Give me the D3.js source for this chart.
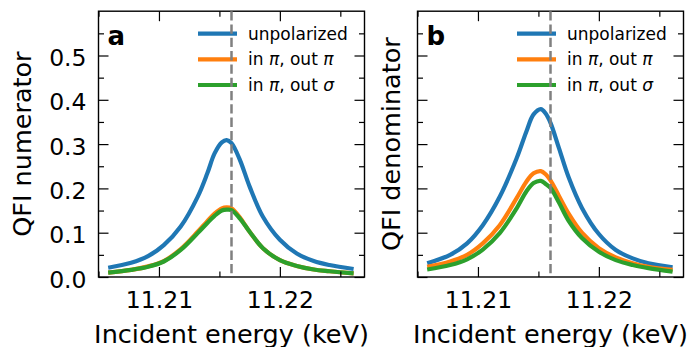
<!DOCTYPE html>
<html><head><meta charset="utf-8">
<script src="https://cdn.jsdelivr.net/npm/d3@7"></script>
<style>
body{margin:0;background:#fff}
svg{display:block}
text{font-family:"DejaVu Sans",sans-serif;fill:#000}
</style>
</head><body>
<svg id="c" width="691" height="347"></svg>
<script>
// ---- data ----
const energies = [11.2058, 11.2077, 11.2091, 11.2104, 11.2118, 11.2132, 11.2140, 11.2146, 11.2152, 11.2156, 11.2160, 11.2167, 11.2175, 11.2186, 11.2200, 11.2214, 11.2228, 11.2241, 11.2261];
// panel a: QFI numerator
const numUnpolarized = [0.021, 0.032, 0.047, 0.072, 0.114, 0.181, 0.234, 0.279, 0.304, 0.309, 0.302, 0.264, 0.204, 0.136, 0.084, 0.053, 0.036, 0.027, 0.018];
const numPiPi        = [0.010, 0.016, 0.024, 0.036, 0.063, 0.102, 0.126, 0.143, 0.155, 0.157, 0.155, 0.134, 0.102, 0.065, 0.038, 0.025, 0.017, 0.013, 0.008];
const numPiSigma     = [0.0097, 0.016, 0.023, 0.035, 0.061, 0.099, 0.122, 0.138, 0.150, 0.152, 0.151, 0.132, 0.102, 0.065, 0.038, 0.025, 0.017, 0.013, 0.008];
// panel b: QFI denominator
const denUnpolarized = [0.031, 0.050, 0.076, 0.117, 0.181, 0.268, 0.328, 0.367, 0.379, 0.369, 0.348, 0.291, 0.225, 0.156, 0.097, 0.061, 0.042, 0.031, 0.022];
const denPiPi        = [0.023, 0.035, 0.050, 0.076, 0.117, 0.178, 0.215, 0.234, 0.239, 0.232, 0.218, 0.183, 0.143, 0.100, 0.065, 0.044, 0.031, 0.023, 0.016];
const denPiSigma     = [0.017, 0.027, 0.040, 0.062, 0.099, 0.155, 0.193, 0.212, 0.217, 0.210, 0.201, 0.168, 0.127, 0.088, 0.057, 0.038, 0.027, 0.020, 0.012];

const resonanceEnergy = 11.216;
const xDomain = [11.205, 11.227];
const yDomain = [0, 0.6];
const xMajorTicks = [11.21, 11.22];
const xMinorTicks = [11.205, 11.215, 11.225];
const yMajorTicks = [0.0, 0.1, 0.2, 0.3, 0.4, 0.5];
const yMinorTicks = [0.05, 0.15, 0.25, 0.35, 0.45, 0.55];
const seriesLabels = [["unpolarized", null, null], ["in ", "π", ", out ", "π"], ["in ", "π", ", out ", "σ"]];
const colors = ["#1f77b4", "#ff7f0e", "#2ca02c"];
const panelLetters = ["a", "b"];
const yTitles = ["QFI numerator", "QFI denominator"];
const xTitle = "Incident energy (keV)";

// ---- layout ----
const svg = d3.select("#c");
const yTop = 11.2, yBottom = 277;
const panels = [
  {left: 98.5, right: 364.5, series: [numUnpolarized, numPiPi, numPiSigma], showY: true, yTitleX: 30.5},
  {left: 417.5, right: 683.5, series: [denUnpolarized, denPiPi, denPiSigma], showY: false, yTitleX: 400}
];
const majorLen = 10, minorLen = 5.5;
const tickFont = 23.5, labelFont = 25.5, legendFont = 17;

panels.forEach((p, pi) => {
  const x = d3.scaleLinear().domain(xDomain).range([p.left, p.right]);
  const y = d3.scaleLinear().domain(yDomain).range([yBottom, yTop]);
  const g = svg.append("g");

  // curves
  const line = d3.line().x((d, i) => x(energies[i])).y(d => y(d)).curve(d3.curveCatmullRom.alpha(0.5));
  p.series.forEach((s, si) => {
    g.append("path").attr("d", line(s)).attr("fill", "none")
      .attr("stroke", colors[si]).attr("stroke-width", 4.2)
      .attr("stroke-linejoin", "round").attr("stroke-linecap", "butt");
  });

  // axes with inward ticks on all sides
  const fmtX = d3.format(".2f"), fmtY = d3.format(".1f");
  const axB = g.append("g").attr("transform", `translate(0,${yBottom})`)
    .call(d3.axisBottom(x).tickValues(xMajorTicks).tickSize(-majorLen).tickPadding(14.5).tickFormat(fmtX));
  axB.selectAll("text").attr("font-size", tickFont).attr("font-family", "DejaVu Sans");
  g.append("g").attr("transform", `translate(0,${yBottom})`)
    .call(d3.axisBottom(x).tickValues(xMinorTicks).tickSize(-minorLen).tickFormat(""));
  g.append("g").attr("transform", `translate(0,${yTop})`)
    .call(d3.axisTop(x).tickValues(xMajorTicks).tickSize(-majorLen).tickFormat(""));
  g.append("g").attr("transform", `translate(0,${yTop})`)
    .call(d3.axisTop(x).tickValues(xMinorTicks).tickSize(-minorLen).tickFormat(""));
  const axL = g.append("g").attr("transform", `translate(${p.left},0)`)
    .call(d3.axisLeft(y).tickValues(yMajorTicks).tickSize(-majorLen).tickPadding(12).tickFormat(p.showY ? fmtY : ""));
  axL.selectAll("text").attr("font-size", tickFont).attr("font-family", "DejaVu Sans").attr("dy", "0.43em");
  g.append("g").attr("transform", `translate(${p.left},0)`)
    .call(d3.axisLeft(y).tickValues(yMinorTicks).tickSize(-minorLen).tickFormat(""));
  g.append("g").attr("transform", `translate(${p.right},0)`)
    .call(d3.axisRight(y).tickValues(yMajorTicks).tickSize(-majorLen).tickFormat(""));
  g.append("g").attr("transform", `translate(${p.right},0)`)
    .call(d3.axisRight(y).tickValues(yMinorTicks).tickSize(-minorLen).tickFormat(""));
  g.selectAll(".domain").remove();
  g.selectAll(".tick line").attr("stroke", "#000").attr("stroke-width", 1.2);

  // frame
  g.append("rect").attr("x", p.left).attr("y", yTop).attr("width", p.right - p.left).attr("height", yBottom - yTop)
    .attr("fill", "none").attr("stroke", "#000").attr("stroke-width", 1.4);

  // legend
  const lx0 = p.left + 99.5, lx1 = p.left + 138.5, tx = p.left + 149.5;
  const ly = [33.7, 59.3, 85];
  seriesLabels.forEach((lab, si) => {
    g.append("line").attr("x1", lx0).attr("x2", lx1).attr("y1", ly[si]).attr("y2", ly[si])
      .attr("stroke", colors[si]).attr("stroke-width", 4.2);
    const t = g.append("text").attr("x", tx).attr("y", ly[si] + 6).attr("font-size", legendFont);
    lab.forEach((part, k) => {
      if (part === null) return;
      t.append("tspan").text(part).attr("font-style", (k % 2 === 1) ? "italic" : "normal");
    });
  });

  // panel letter
  g.append("text").attr("x", p.left + 9).attr("y", 45).attr("font-size", 26).attr("font-weight", "bold").text(panelLetters[pi]);

  // dashed resonance line
  g.append("line").attr("x1", x(resonanceEnergy)).attr("x2", x(resonanceEnergy)).attr("y1", yTop).attr("y2", yBottom)
    .attr("stroke", "#808080").attr("stroke-width", 2.5).attr("stroke-dasharray", "9.3,4");

  // axis titles
  g.append("text").attr("x", (p.left + p.right) / 2).attr("y", 343).attr("text-anchor", "middle")
    .attr("font-size", labelFont).text(xTitle);
  g.append("text").attr("transform", `translate(${p.yTitleX},${(yTop + yBottom) / 2}) rotate(-90)`)
    .attr("text-anchor", "middle").attr("font-size", labelFont).text(yTitles[pi]);
});
</script>
</body></html>
